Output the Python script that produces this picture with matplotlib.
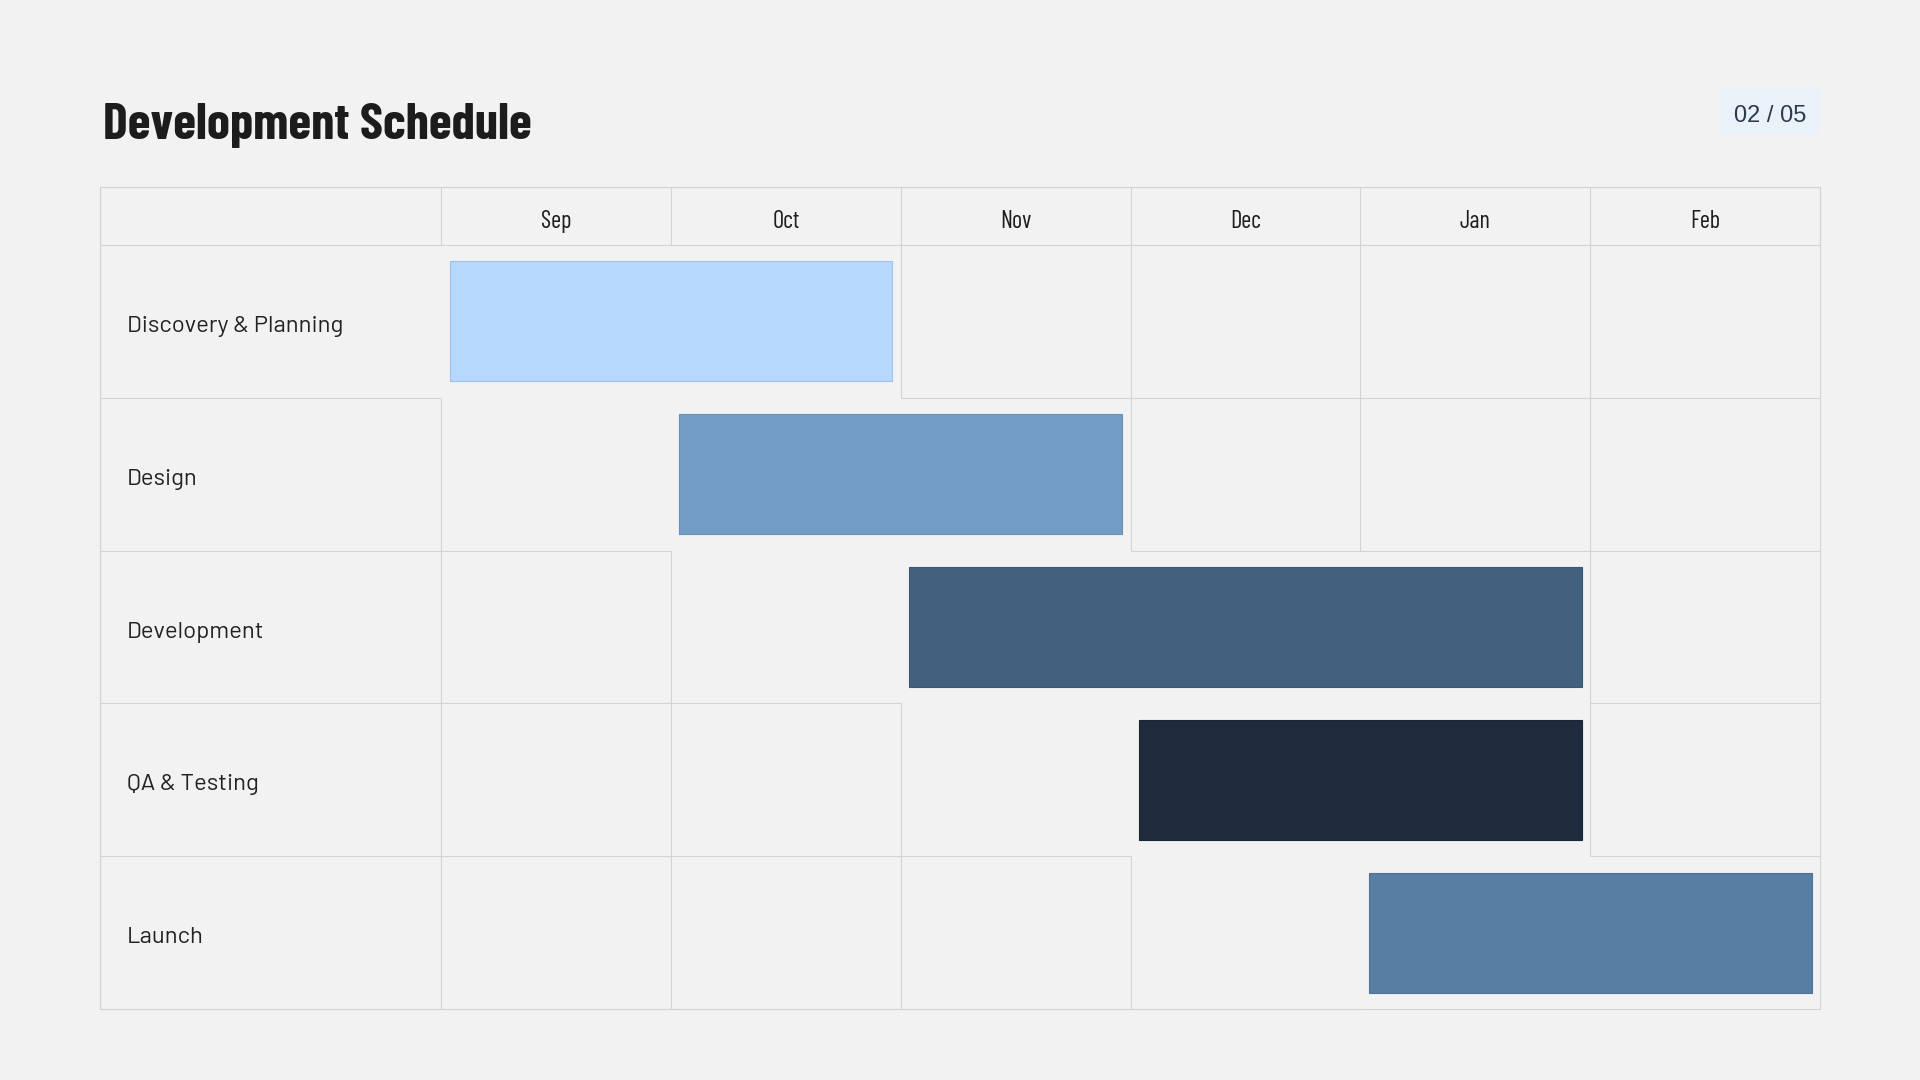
"""Development schedule Gantt chart (slide 02 / 05)."""

import matplotlib

matplotlib.use("Agg")
import matplotlib.pyplot as plt
from matplotlib.patches import Rectangle

MONTHS = ["Sep", "Oct", "Nov", "Dec", "Jan", "Feb"]
TASKS = ["Discovery & Planning", "Design", "Development", "QA & Testing", "Launch"]
START = [0, 1, 2, 3, 4]       # index into MONTHS
DURATION = [2, 2, 3, 2, 2]    # months
COLORS = ["#b6d8fc", "#739dc4", "#42617f", "#1e2c3e", "#587ea4"]
EDGES = ["#9fc2e8", "#6890b6", "#3a5673", "#1a2636", "#4f7397"]

BG = "#f2f2f2"
GRID = "#d3d3d3"
W, H = 1920, 1080
CONDENSED = ["Barlow Condensed", "Roboto Condensed", "DejaVu Sans"]
REGULAR = ["Barlow", "Roboto", "DejaVu Sans"]

# table geometry in pixels
TL, TR = 100, 1820
LABEL_R = 441
HEAD_T, HEAD_B = 187, 245
BOTTOM = 1009

col_w = (TR - LABEL_R) / len(MONTHS)
row_h = (BOTTOM - HEAD_B) / len(TASKS)
label_w = (LABEL_R - TL) / col_w
head_h = (HEAD_B - HEAD_T) / row_h

fig = plt.figure(figsize=(W / 100, H / 100), dpi=100, facecolor=BG)
ax = fig.add_axes([TL / W, 1 - BOTTOM / H, (TR - TL) / W, (BOTTOM - HEAD_T) / H])
ax.set_xlim(-label_w, len(MONTHS))
ax.set_ylim(len(TASKS), -head_h)
ax.set_axis_off()
ax.set_facecolor(BG)

lw = 0.8


def seg(x0, x1, y0, y1):
    ax.plot([x0, x1], [y0, y1], color=GRID, lw=lw, solid_capstyle="butt",
            zorder=1, clip_on=False)


# header row: full borders
for x in [-label_w] + list(range(len(MONTHS) + 1)):
    seg(x, x, -head_h, 0)
seg(-label_w, len(MONTHS), -head_h, -head_h)
seg(-label_w, len(MONTHS), 0, 0)
for j, m in enumerate(MONTHS):
    ax.text(j + 0.5, -17 / row_h, m, ha="center", va="baseline", fontsize=17.5,
            family=CONDENSED, color="#1e1e1e")

# body: each plain cell draws its left and bottom edge, bar cells draw nothing
for i, task in enumerate(TASKS):
    s, d = START[i], DURATION[i]
    cells = [(-label_w, 0)]
    cells += [(j, j + 1) for j in range(len(MONTHS)) if not (s <= j < s + d)]
    for x0, x1 in cells:
        seg(x0, x0, i, i + 1)
        seg(x0, x1, i + 1, i + 1)
    ax.text(-label_w + 27 / col_w, i + 87 / row_h, task, ha="left", va="baseline",
            fontsize=17.2, family=REGULAR, color="#222222")

# outer frame
ax.add_patch(Rectangle((-label_w, -head_h), label_w + len(MONTHS), len(TASKS) + head_h,
                       fill=False, edgecolor=GRID, lw=lw, zorder=1, clip_on=False))

inset_x = 8.5 / col_w
bar_h = 120 / row_h
ax.barh([i + 0.5 for i in range(len(TASKS))], [d - 2 * inset_x for d in DURATION],
        left=[s + inset_x for s in START], height=bar_h,
        color=COLORS, edgecolor=EDGES, linewidth=0.8, zorder=2)

# title and page indicator
fig.text(103 / W, 1 - 139 / H, "Development Schedule", ha="left", va="baseline",
         fontsize=37.5, fontweight="bold", color="#1c1c1c", family=CONDENSED)
fig.patches.append(Rectangle((1720 / W, 1 - 135 / H), 100 / W, 47 / H,
                             transform=fig.transFigure, facecolor="#eaf1f9",
                             edgecolor="none", zorder=0))
fig.text(1770 / W, 1 - 122 / H, "02 / 05", ha="center", va="baseline",
         fontsize=17, color="#2b3a4e", family=["Liberation Sans", "DejaVu Sans"])

fig.savefig("out.png", dpi=100, facecolor=BG)
